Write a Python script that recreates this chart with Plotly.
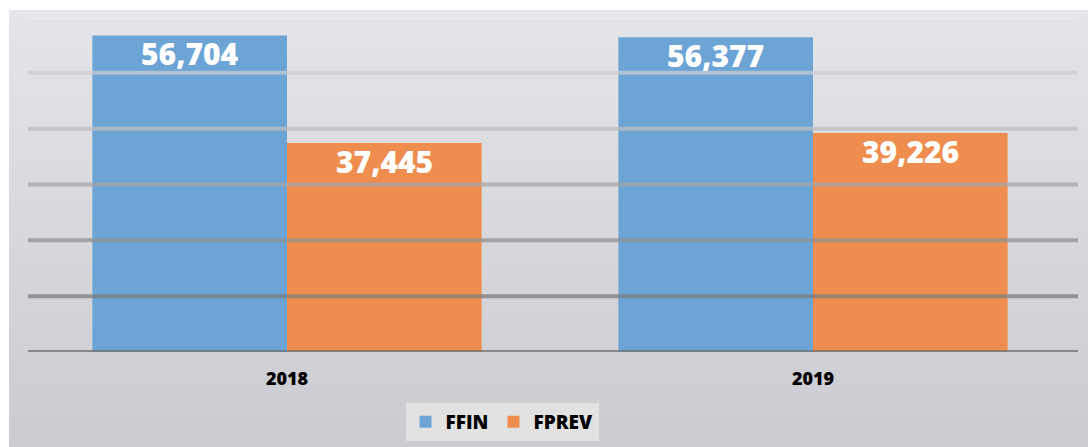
import plotly.graph_objects as go

years = ["2018", "2019"]
ffin = [56704, 56377]
fprev = [37445, 39226]
series_names = ["FFIN", "FPREV"]
y_ticks = [0, 10000, 20000, 30000, 40000, 50000, 60000]

W, H = 1088, 447
ML, MR, MT, MB = 24, 12, 17, 95
PW = W - ML - MR
PH = H - MT - MB
BARGAP = 0.26

def px_x(p):
    return (p - ML) / PW

def px_y(p):
    return (H - MB - p) / PH

fig = go.Figure()
fig.add_trace(go.Bar(
    x=years, y=ffin, name=series_names[0], marker=dict(color="#6CA4D6", line_width=0),
))
fig.add_trace(go.Bar(
    x=years, y=fprev, name=series_names[1], marker=dict(color="#EE8D4E", line_width=0),
))

# value labels placed at top of each bar (grouped offset from bargap)
half = (1 - BARGAP) / 4
annotations = []
for series, off in ((ffin, -half), (fprev, half)):
    for i, v in enumerate(series):
        annotations.append(dict(
            x=i + off, y=v, xref="x", yref="y", text=f"{v:,}", showarrow=False,
            yanchor="top", xanchor="center", yshift=4,
            font=dict(color="white", size=30, family="Open Sans", weight=800)))

shapes = []
top_c = (228, 229, 233)
bot_c = (203, 204, 209)
n = 40
y_top, y_bot = 10, H
for i in range(n):
    t = i / (n - 1)
    c = tuple(int(round(top_c[k] + (bot_c[k] - top_c[k]) * t)) for k in range(3))
    p0 = y_top + (y_bot - y_top) * i / n
    p1 = y_top + (y_bot - y_top) * (i + 1) / n + 1
    shapes.append(dict(type="rect", xref="paper", yref="paper",
                       x0=px_x(9), x1=px_x(W + 2), y0=px_y(p1), y1=px_y(p0),
                       fillcolor="rgb(%d,%d,%d)" % c, line_width=0, layer="below"))

grid_cols = [
    "rgba(235,235,237,0.85)",
    "rgba(205,205,207,0.7)",
    "rgba(190,190,192,0.75)",
    "rgba(165,165,167,0.75)",
    "rgba(145,145,147,0.75)",
    "rgba(125,125,127,0.75)",
    "rgba(118,118,120,0.8)",
]
for v, c in zip(y_ticks[::-1], grid_cols):
    shapes.append(dict(type="line", xref="paper", yref="y",
                       x0=px_x(28), x1=px_x(1078), y0=v, y1=v,
                       line=dict(color=c, width=4), layer="above"))

fig.update_layout(
    width=W, height=H,
    margin=dict(l=ML, r=MR, t=MT, b=MB, autoexpand=False),
    paper_bgcolor="white", plot_bgcolor="rgba(0,0,0,0)",
    barmode="group", bargap=BARGAP, bargroupgap=0,
    shapes=shapes, annotations=annotations,
    font=dict(family="Open Sans", color="black"),
    xaxis=dict(showgrid=False, showline=False, zeroline=False, ticks="",
               ticklabelstandoff=14, automargin=False,
               tickfont=dict(size=18, family="Open Sans", weight=800, color="black")),
    yaxis=dict(range=[0, 60000], tickvals=y_ticks, showticklabels=False,
               showgrid=False, zeroline=False, showline=False, automargin=False),
    legend=dict(orientation="h", x=px_x(502), xanchor="center",
                y=px_y(403), yanchor="top", bgcolor="#E2E2E2",
                font=dict(size=19, family="Open Sans", weight=800, color="black"),
                itemsizing="constant", traceorder="normal"),
)
fig.write_html("out.html", config={"displayModeBar": False})
with open("out.html", "r", encoding="utf-8") as f:
    html = f.read()
html = html.replace("<head>", "<head><style>html,body{margin:0;padding:0;overflow:hidden}</style>", 1)
with open("out.html", "w", encoding="utf-8") as f:
    f.write(html)
